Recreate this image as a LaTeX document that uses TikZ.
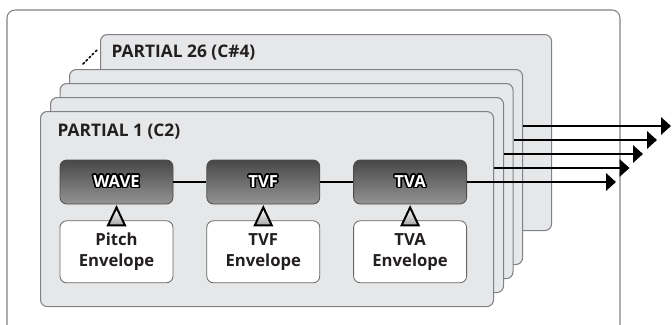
\documentclass[tikz,border=0pt]{standalone}
\usepackage{fontspec}
\setmainfont{Open Sans}
\usepackage{contour}
\contourlength{1.2pt}
\usetikzlibrary{arrows.meta,calc,positioning}

\definecolor{cartafill}{HTML}{E6E7E8}
\definecolor{cartabordo}{HTML}{808285}
\definecolor{testo}{HTML}{231F20}

\tikzset{
  carta/.style={draw=cartabordo, fill=cartafill, line width=0.8pt, rounded corners=5pt,
    minimum width=339.75pt, minimum height=146.25pt, anchor=north west, inner sep=0pt},
  titolo/.style={anchor=west, text=testo, font=\bfseries\fontsize{13}{15}\selectfont},
  modulo/.style={draw=black!70, line width=0.6pt, rounded corners=5pt, top color=black!72,
    bottom color=black!42, minimum width=84.75pt, minimum height=33pt, text=white,
    font=\bfseries\fontsize{12.5}{15}\selectfont},
  inviluppo/.style={draw=black!60, fill=white, line width=0.6pt, rounded corners=5pt,
    minimum width=84.75pt, minimum height=46.5pt, align=center, text=testo,
    font=\bfseries\fontsize{12.5}{15.5}\selectfont},
  freccina/.style={draw=black, line width=1.5pt, line join=miter, top color=white, bottom color=black!35},
  uscita/.style={line width=1.7pt, -{Triangle[length=7.5pt, width=13pt]}},
  legame/.style={line width=1.5pt}
}

\begin{document}
\begin{tikzpicture}[x=0.75pt, y=-0.75pt]
\useasboundingbox (0,0) rectangle (672,325);

% Riquadro esterno
\draw[draw=cartabordo, line width=0.8pt, rounded corners=6pt] (7,325) -- (7,10) -- (620,10) -- (620,325);

% Estremi delle uscite
\foreach \k/\x/\y in {1/616/182, 2/629.5/168, 3/643/154, 4/657/140, 5/671/126}
  \coordinate (o\k) at (\x,\y);

% Ultima carta
\node[carta, minimum width=338.25pt, minimum height=147pt] (c5) at (100,34) {};
\node[titolo] (t5) at ($(c5.north west)+(7,19)$) {PARTIAL 26 (C\#4)};
\coordinate (p1) at (83,64);
\coordinate (p2) at (97,50);
\draw[line width=1.3pt, dotted, line cap=round] (p1) -- (p2);

% Carte intermedie e frecce di uscita
\foreach \i/\x/\y/\o in {4/69/69/5, 3/59.5/83/4, 2/50/97/3, 1/40/111/2} {
  \node[carta] (c\i) at (\x,\y) {};
  \draw[uscita] (c\i.east |- o\o) -- (o\o);
}
\node[titolo] (t1) at ($(c1.north west)+(13,21)$) {PARTIAL 1 (C2)};

% Moduli
\node[modulo] (wave) at (116.5,182) {\contour{black}{WAVE}};
\node[modulo, right=24.75pt of wave] (tvf) {\contour{black}{TVF}};
\node[modulo, right=24.75pt of tvf] (tva) {\contour{black}{TVA}};
\draw[legame] (wave) -- (tvf);
\draw[legame] (tvf) -- (tva);
\draw[uscita] (tva.east) -- (o1);

% Inviluppi
\node[inviluppo, below=12pt of wave] (envp) {Pitch\\Envelope};
\node[inviluppo, below=12pt of tvf] (envf) {TVF\\Envelope};
\node[inviluppo, below=12pt of tva] (enva) {TVA\\Envelope};
\foreach \m/\e in {wave/envp, tvf/envf, tva/enva}
  \draw[freccina] ($(\e.north)+(-8.5,5)$) -- ++(17,0) -- ($(\m.south)+(0,3)$) -- cycle;

\end{tikzpicture}
\end{document}
